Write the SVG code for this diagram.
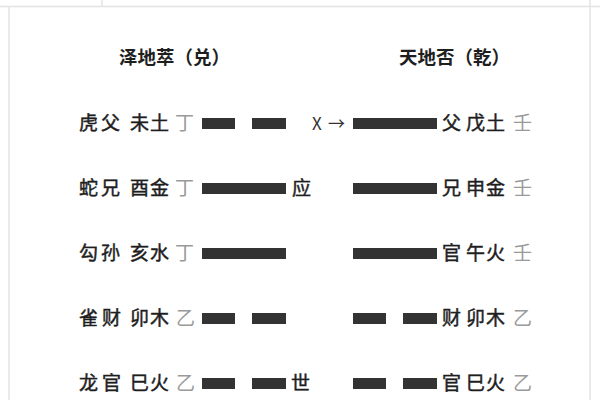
<svg xmlns="http://www.w3.org/2000/svg" width="600" height="400" viewBox="0 0 600 400">
<style>
text{font-family:"Noto Sans CJK SC","Noto Sans",sans-serif;font-size:19px;fill:#1e1e1e;stroke:#1e1e1e;stroke-width:0.45;font-weight:400}
.g{fill:#9a9a9a;stroke:none}
.t{font-size:18.5px;font-weight:700;stroke:none}
.yao{fill:#333}
.frame{stroke:#e3e3e3;stroke-width:1.5;fill:none}
</style>
<rect width="600" height="400" fill="#fff"/>
<g id="frame" class="frame">
<line x1="0" y1="6.5" x2="600" y2="6.5"/>
<line x1="102" y1="0" x2="102" y2="6.5"/>
<line x1="9" y1="6.5" x2="9" y2="400"/>
<line x1="590" y1="0" x2="590" y2="400"/>
</g>
<g id="title-left"><text class="t" x="119" y="64">泽地萃（兑）</text></g>
<g id="title-right"><text class="t" x="399" y="64">天地否（乾）</text></g>

<g id="left-row1"><text x="79 101 130 150" y="130">虎父未土</text><text class="g" x="175" y="130">丁</text></g>
<g id="left-row2"><text x="79 101 130 150" y="195">蛇兄酉金</text><text class="g" x="175" y="195">丁</text><text x="292" y="195">应</text></g>
<g id="left-row3"><text x="79 101 130 150" y="260">勾孙亥水</text><text class="g" x="175" y="260">丁</text></g>
<g id="left-row4"><text x="79 102 130 150" y="325">雀财卯木</text><text class="g" x="176" y="325">乙</text></g>
<g id="left-row5"><text x="79 102 130 150" y="390">龙官巳火</text><text class="g" x="176" y="390">乙</text><text x="291" y="390">世</text></g>

<g id="right-row1"><text x="442 466 486" y="130">父戊土</text><text class="g" x="513" y="130">壬</text></g>
<g id="right-row2"><text x="442 466 486" y="195">兄申金</text><text class="g" x="513" y="195">壬</text></g>
<g id="right-row3"><text x="442 466 486" y="260">官午火</text><text class="g" x="513" y="260">壬</text></g>
<g id="right-row4"><text x="442 466 486" y="325">财卯木</text><text class="g" x="513" y="325">乙</text></g>
<g id="right-row5"><text x="442 466 486" y="390">官巳火</text><text class="g" x="513" y="390">乙</text></g>

<g id="change-mark"><text x="312 328" y="130" style="font-size:17px;stroke:none;fill:#333">X→</text></g>

<g id="yao-lines" class="yao">
<rect x="202" y="118" width="33" height="11"/><rect x="252" y="118" width="34" height="11"/>
<rect x="202" y="183" width="84" height="11"/>
<rect x="202" y="248" width="84" height="11"/>
<rect x="202" y="313" width="33" height="11"/><rect x="252" y="313" width="34" height="11"/>
<rect x="202" y="378" width="33" height="11"/><rect x="252" y="378" width="34" height="11"/>
<rect x="353" y="118" width="84" height="11"/>
<rect x="353" y="183" width="84" height="11"/>
<rect x="353" y="248" width="84" height="11"/>
<rect x="353" y="313" width="33" height="11"/><rect x="403" y="313" width="34" height="11"/>
<rect x="353" y="378" width="33" height="11"/><rect x="403" y="378" width="34" height="11"/>
</g>
</svg>
